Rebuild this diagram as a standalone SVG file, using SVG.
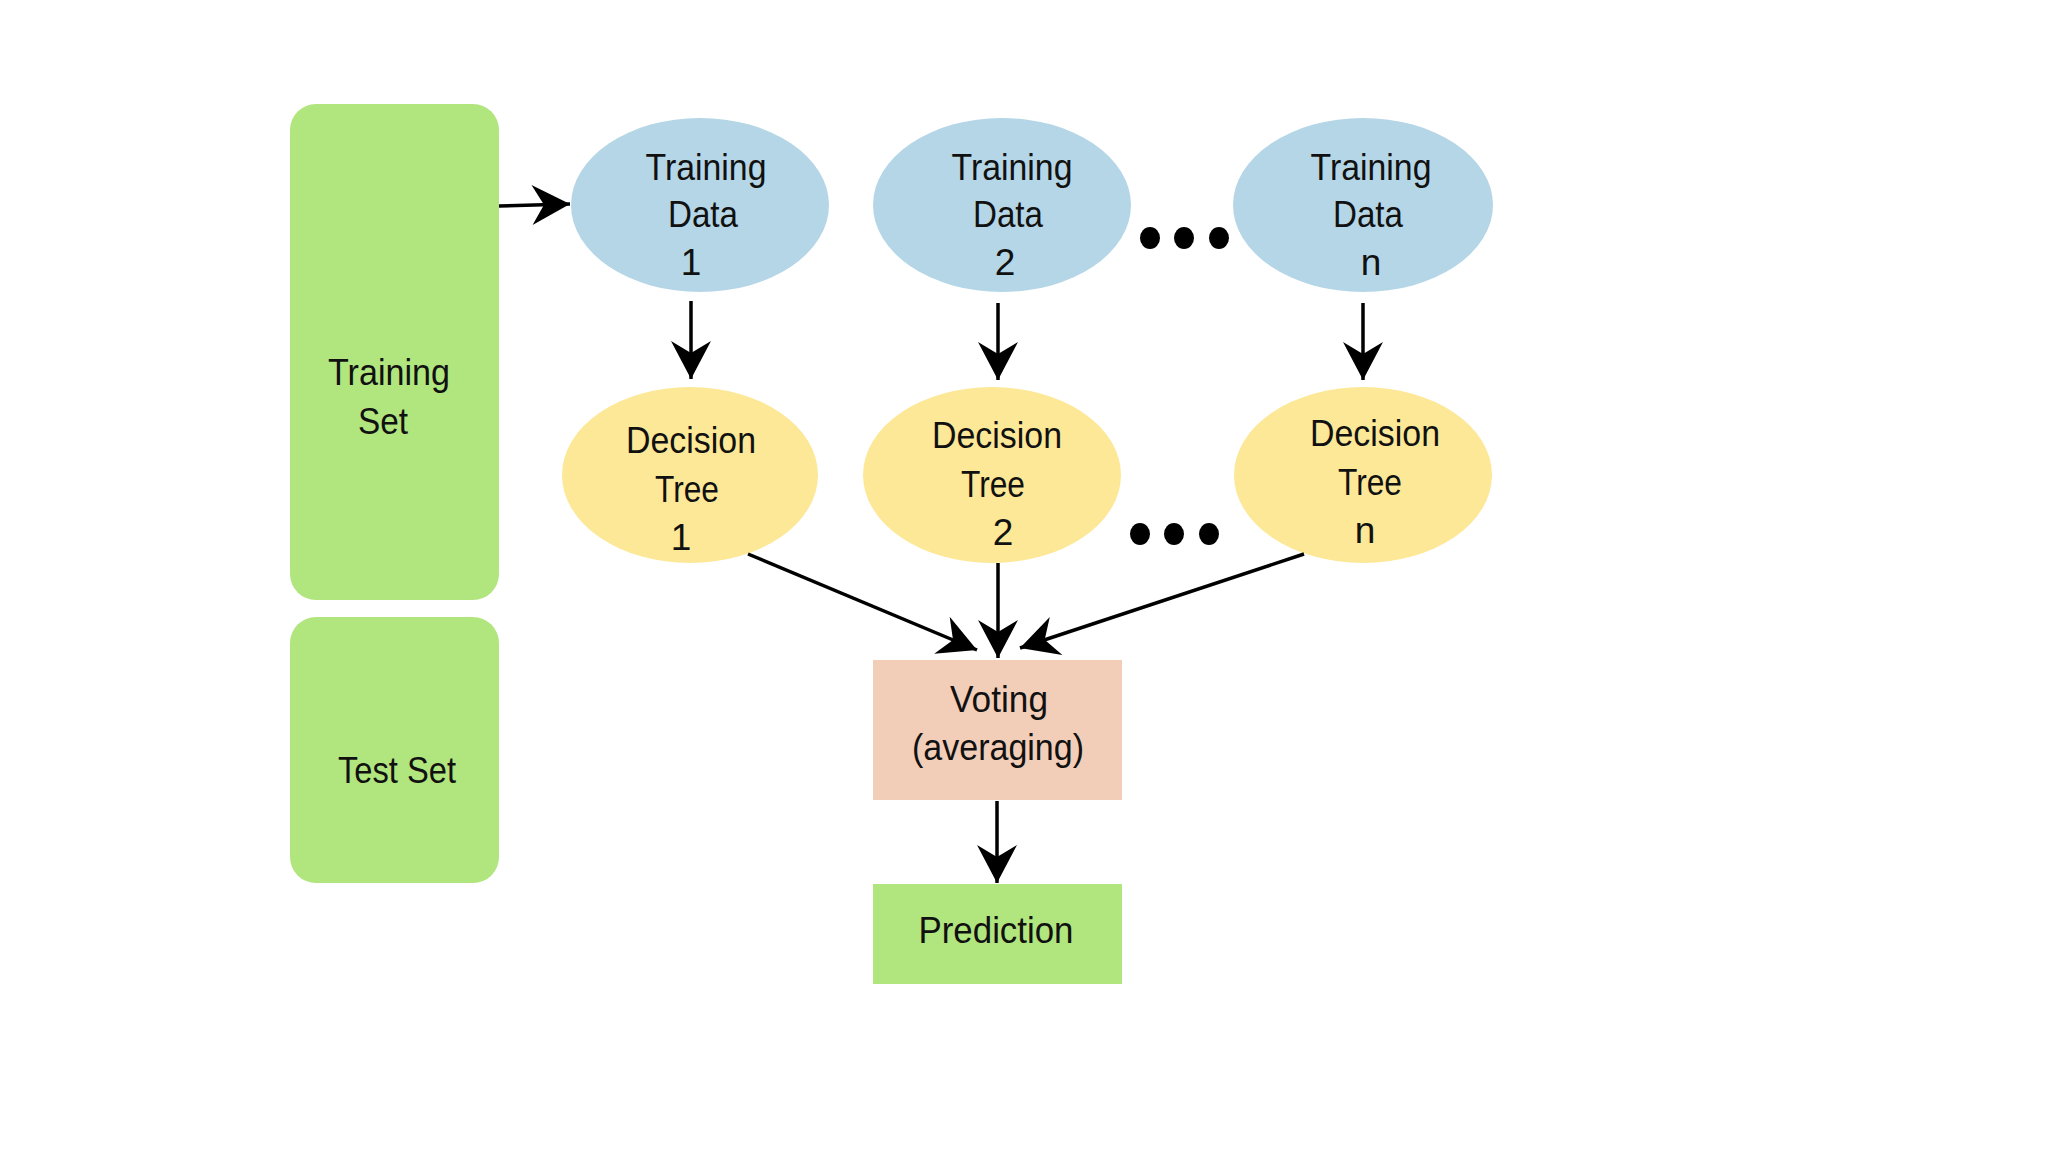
<svg xmlns="http://www.w3.org/2000/svg" width="2048" height="1152" viewBox="0 0 2048 1152">
  <style>
    .lbl { font-family: "Liberation Sans", Arial, sans-serif; font-size: 37px; fill: #111; text-anchor: middle; }
    .green { fill: #B1E57E; }
    .blue { fill: #B4D6E6; }
    .yellow { fill: #FCE896; }
    .peach { fill: #F2CEB9; }
    .conn { stroke: #000; stroke-width: 3.5; fill: none; marker-end: url(#arrow); }
    .dot { fill: #000; }
  </style>
  <defs>
    <marker id="arrow" viewBox="-40 -22 42 44" refX="0" refY="0" markerWidth="42" markerHeight="44" markerUnits="userSpaceOnUse" orient="auto">
      <path d="M0,0 L-38,-20 L-26,0 L-38,20 Z" fill="#000"/>
    </marker>
  </defs>
  <rect width="2048" height="1152" fill="#FFFFFF"/>

  <g id="training-set">
    <rect class="green" x="290" y="104" width="209" height="496" rx="26" ry="26"/>
    <text class="lbl" x="389" y="385" textLength="122" lengthAdjust="spacingAndGlyphs">Training</text>
    <text class="lbl" x="383" y="434" textLength="50" lengthAdjust="spacingAndGlyphs">Set</text>
  </g>
  <g id="test-set">
    <rect class="green" x="290" y="617" width="209" height="266" rx="26" ry="26"/>
    <text class="lbl" x="397" y="783" textLength="118" lengthAdjust="spacingAndGlyphs">Test Set</text>
  </g>

  <g id="training-data-1">
    <ellipse class="blue" cx="700" cy="205" rx="129" ry="87"/>
    <text class="lbl" x="706" y="180" textLength="121" lengthAdjust="spacingAndGlyphs">Training</text>
    <text class="lbl" x="703" y="227" textLength="70" lengthAdjust="spacingAndGlyphs">Data</text>
    <text class="lbl" x="691" y="275">1</text>
  </g>
  <g id="training-data-2">
    <ellipse class="blue" cx="1002" cy="205" rx="129" ry="87"/>
    <text class="lbl" x="1012" y="180" textLength="121" lengthAdjust="spacingAndGlyphs">Training</text>
    <text class="lbl" x="1008" y="227" textLength="70" lengthAdjust="spacingAndGlyphs">Data</text>
    <text class="lbl" x="1005" y="275">2</text>
  </g>
  <g id="training-data-n">
    <ellipse class="blue" cx="1363" cy="205" rx="130" ry="87"/>
    <text class="lbl" x="1371" y="180" textLength="121" lengthAdjust="spacingAndGlyphs">Training</text>
    <text class="lbl" x="1368" y="227" textLength="70" lengthAdjust="spacingAndGlyphs">Data</text>
    <text class="lbl" x="1371" y="275">n</text>
  </g>
  <g id="dots-top">
    <ellipse class="dot" cx="1150" cy="238" rx="10" ry="11"/>
    <ellipse class="dot" cx="1184" cy="238" rx="10" ry="11"/>
    <ellipse class="dot" cx="1219" cy="238" rx="10" ry="11"/>
  </g>

  <g id="decision-tree-1">
    <ellipse class="yellow" cx="690" cy="475" rx="128" ry="88"/>
    <text class="lbl" x="691" y="453" textLength="130" lengthAdjust="spacingAndGlyphs">Decision</text>
    <text class="lbl" x="687" y="502" textLength="64" lengthAdjust="spacingAndGlyphs">Tree</text>
    <text class="lbl" x="681" y="550">1</text>
  </g>
  <g id="decision-tree-2">
    <ellipse class="yellow" cx="992" cy="475" rx="129" ry="88"/>
    <text class="lbl" x="997" y="448" textLength="130" lengthAdjust="spacingAndGlyphs">Decision</text>
    <text class="lbl" x="993" y="497" textLength="64" lengthAdjust="spacingAndGlyphs">Tree</text>
    <text class="lbl" x="1003" y="545">2</text>
  </g>
  <g id="decision-tree-n">
    <ellipse class="yellow" cx="1363" cy="475" rx="129" ry="88"/>
    <text class="lbl" x="1375" y="446" textLength="130" lengthAdjust="spacingAndGlyphs">Decision</text>
    <text class="lbl" x="1370" y="495" textLength="64" lengthAdjust="spacingAndGlyphs">Tree</text>
    <text class="lbl" x="1365" y="543">n</text>
  </g>
  <g id="dots-mid">
    <ellipse class="dot" cx="1140" cy="534" rx="10" ry="11"/>
    <ellipse class="dot" cx="1174" cy="534" rx="10" ry="11"/>
    <ellipse class="dot" cx="1209" cy="534" rx="10" ry="11"/>
  </g>

  <g id="voting">
    <rect class="peach" x="873" y="660" width="249" height="140"/>
    <text class="lbl" x="999" y="712" textLength="98" lengthAdjust="spacingAndGlyphs">Voting</text>
    <text class="lbl" x="998" y="760" textLength="172" lengthAdjust="spacingAndGlyphs">(averaging)</text>
  </g>
  <g id="prediction">
    <rect class="green" x="873" y="884" width="249" height="100"/>
    <text class="lbl" x="996" y="943" textLength="155" lengthAdjust="spacingAndGlyphs">Prediction</text>
  </g>

  <g id="connectors">
    <line class="conn" x1="499" y1="206" x2="570" y2="204"/>
    <line class="conn" x1="691" y1="301" x2="691" y2="379"/>
    <line class="conn" x1="998" y1="303" x2="998" y2="380"/>
    <line class="conn" x1="1363" y1="303" x2="1363" y2="380"/>
    <line class="conn" x1="748" y1="554" x2="977" y2="650"/>
    <line class="conn" x1="998" y1="563" x2="998" y2="658"/>
    <line class="conn" x1="1304" y1="554" x2="1020" y2="648"/>
    <line class="conn" x1="997" y1="801" x2="997" y2="883"/>
  </g>
</svg>
